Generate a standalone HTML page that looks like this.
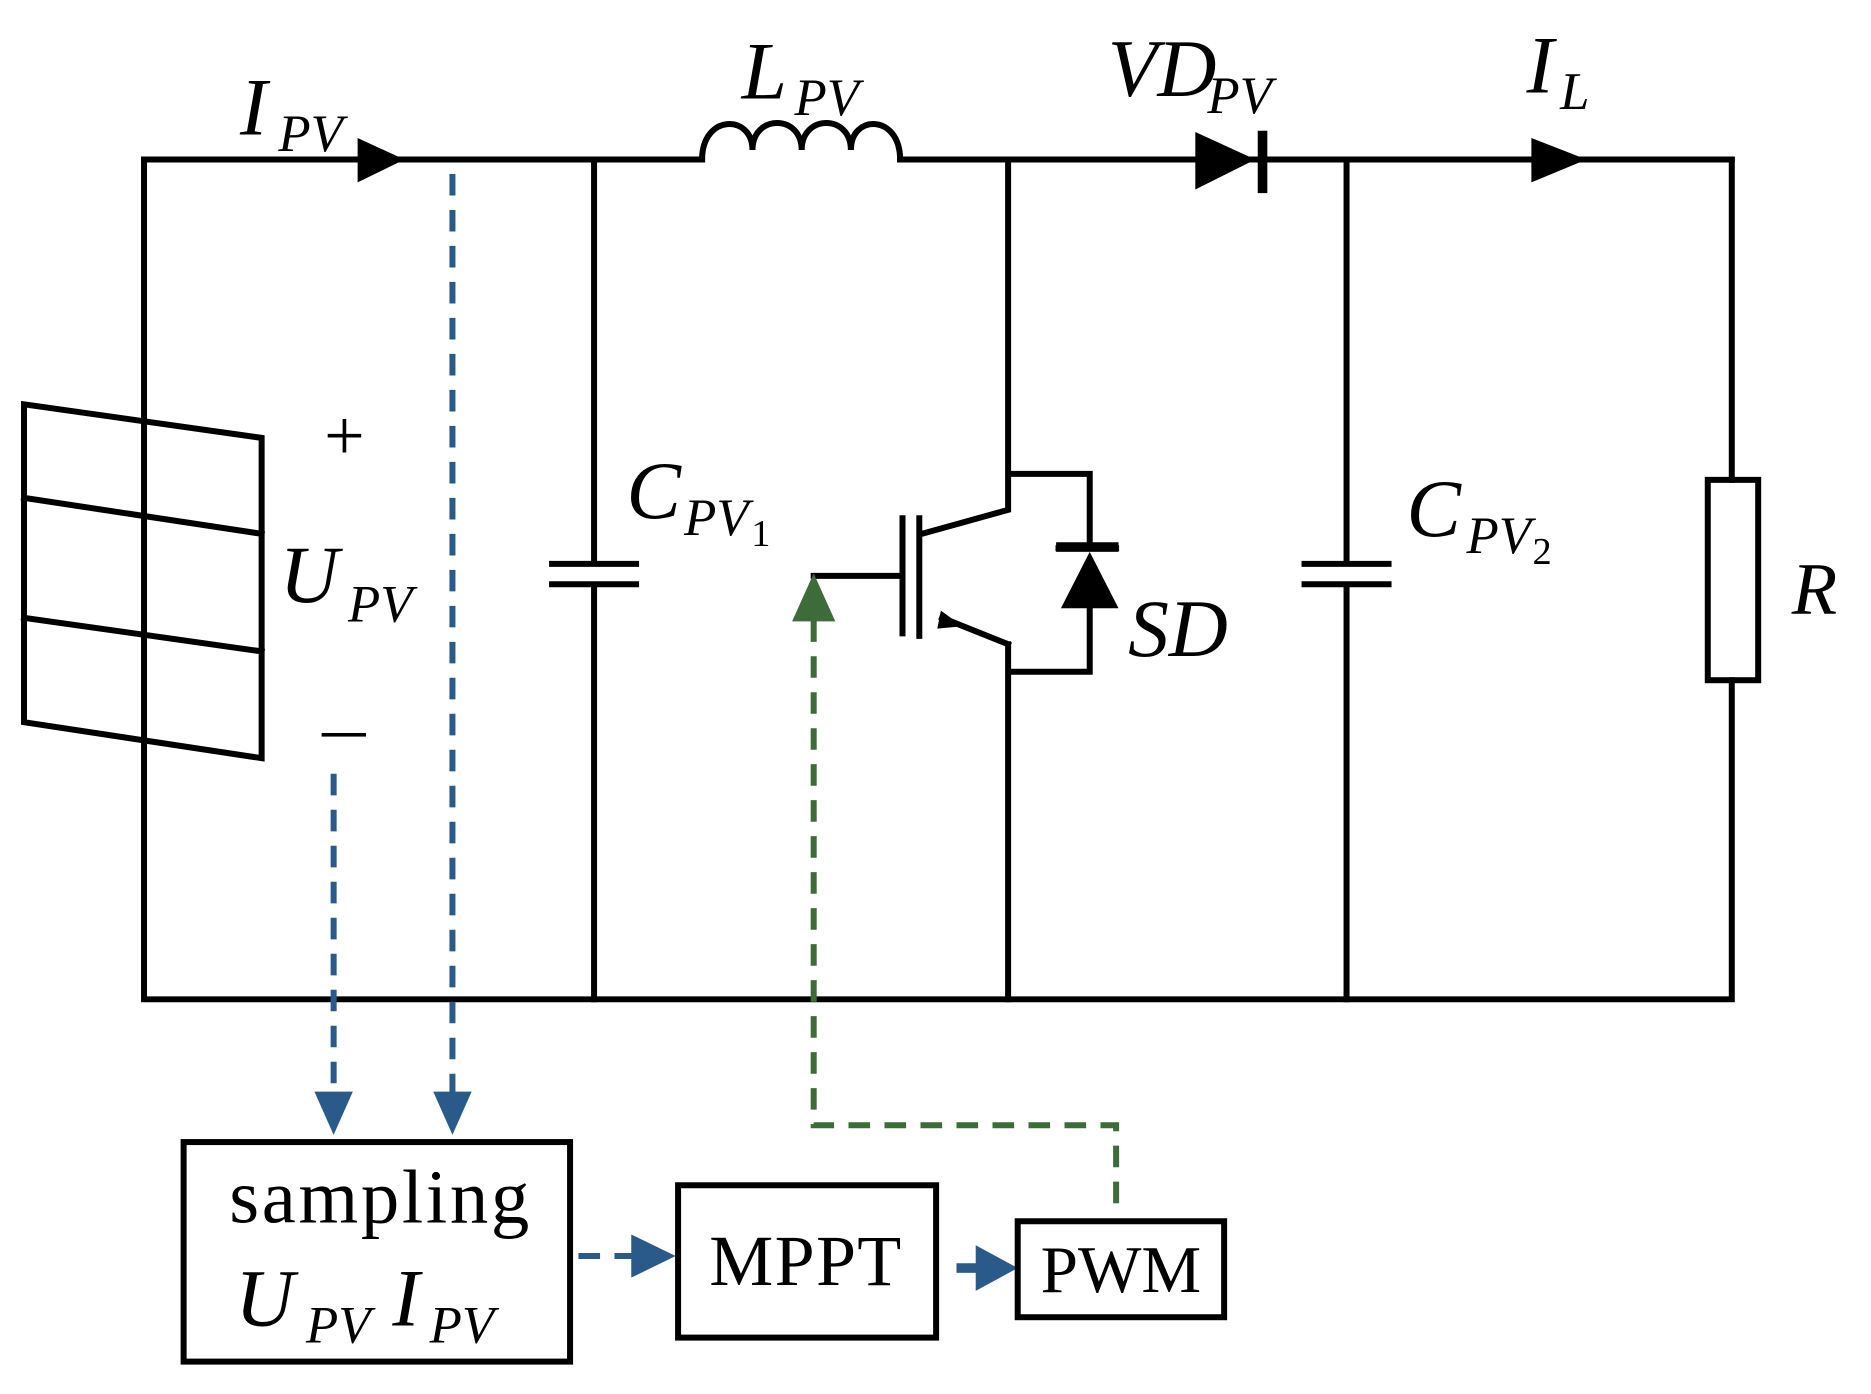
<!DOCTYPE html>
<html><head><style>html,body{margin:0;padding:0;background:#fff}svg{display:block}</style></head>
<body>
<svg width="1871" height="1394" viewBox="0 0 1559 1162" preserveAspectRatio="none" xmlns="http://www.w3.org/2000/svg" font-family="Liberation Serif, serif">
<g stroke="#000" stroke-width="5" fill="none" stroke-linecap="square">
<path d="M120 133 H585 M750 133 H1443"/>
<path d="M585 133 C585 95 627 95 627 125 C627 95 668 95 668 125 C668 95 709 95 709 125 C709 95 750 95 750 133"/>
<path d="M120 133 V833 H1443 V567 M1443 133 V400"/>
<path d="M20 337 L218 365 V632 L20 602 Z M20 415 L218 445 M20 515 L218 543"/>
<path d="M495 133 V470 M495 487 V833 M460 470 H530 M460 487 H530"/>
<path d="M1122 133 V470 M1122 487 V833 M1087 470 H1157 M1087 487 H1157"/>
<rect x="1423" y="400" width="42" height="167"/>
<path d="M840 133 V425 L768 445 M840 395 H908 V455 M882 457 H930 M908 505 V560 H840 M840 537 V833 M840 537 L785 515 M678 480 H752 M752 432 V528 M766 432 V530"/>
<path d="M1052 113 V157" stroke-width="8"/>
</g>
<g fill="#000">
<polygon points="298,115 337,133 298,152"/>
<polygon points="1276,115 1322,133 1276,152"/>
<polygon points="996,110 1046,133 996,158"/>
<polygon points="908,460 884,507 932,507"/>
<polygon points="802,522 784,509 781,524"/>
<rect x="880" y="452" width="52" height="8"/>
</g>
<g stroke="#2a5a8a" stroke-width="5" fill="none" stroke-dasharray="18 12">
<path d="M278 645 V915 M377 145 V915 M482 1047 H540"/>
</g>
<g fill="#2a5a8a">
<polygon points="262,910 294,910 278,946"/>
<polygon points="361,910 393,910 377,946"/>
<polygon points="526,1029 563,1047 526,1065"/>
<rect x="797" y="1053" width="25" height="8"/>
<polygon points="813,1038 848,1057 813,1076"/>
</g>
<path d="M930 1003 V938 H678 V515" stroke="#3d6b3a" stroke-width="5" fill="none" stroke-dasharray="18 12"/>
<polygon points="678,478 660,518 696,518" fill="#3d6b3a"/>
<g stroke="#000" stroke-width="5" fill="none">
<rect x="153" y="952" width="322" height="183"/>
<rect x="565" y="988" width="215" height="127"/>
<rect x="848" y="1018" width="172" height="80"/>
</g>
<g font-style="italic" fill="#000">
<text x="200" y="112" font-size="68">I</text>
<text x="232" y="126" font-size="44">PV</text>
<text x="618" y="82" font-size="68">L</text>
<text x="662" y="96" font-size="44">PV</text>
<text x="923" y="80" font-size="68">VD</text>
<text x="1006" y="94" font-size="44">PV</text>
<text x="1272" y="77" font-size="68">I</text>
<text x="1300" y="91" font-size="44">L</text>
<text x="522" y="432" font-size="68">C</text>
<text x="570" y="446" font-size="44">PV</text>
<text x="626" y="455" font-size="32" font-style="normal">1</text>
<text x="1172" y="447" font-size="68">C</text>
<text x="1222" y="461" font-size="44">PV</text>
<text x="1277" y="470" font-size="32" font-style="normal">2</text>
<text x="233" y="502" font-size="68">U</text>
<text x="290" y="518" font-size="44">PV</text>
<text x="940" y="547" font-size="68">SD</text>
<text x="1493" y="512" font-size="62">R</text>
<text x="196" y="1105" font-size="68">U</text>
<text x="255" y="1119" font-size="44">PV</text>
<text x="327" y="1105" font-size="68">I</text>
<text x="358" y="1119" font-size="44">PV</text>
</g>
<g fill="#000">
<text x="287" y="383" font-size="60" text-anchor="middle">+</text>
<rect x="268" y="611" width="37" height="3"/>
<text x="316" y="1019" font-size="64" text-anchor="middle" textLength="250">sampling</text>
<text x="671" y="1071" font-size="60" text-anchor="middle" textLength="160">MPPT</text>
<text x="934" y="1077" font-size="56" text-anchor="middle">PWM</text>
</g>
</svg>
</body></html>
